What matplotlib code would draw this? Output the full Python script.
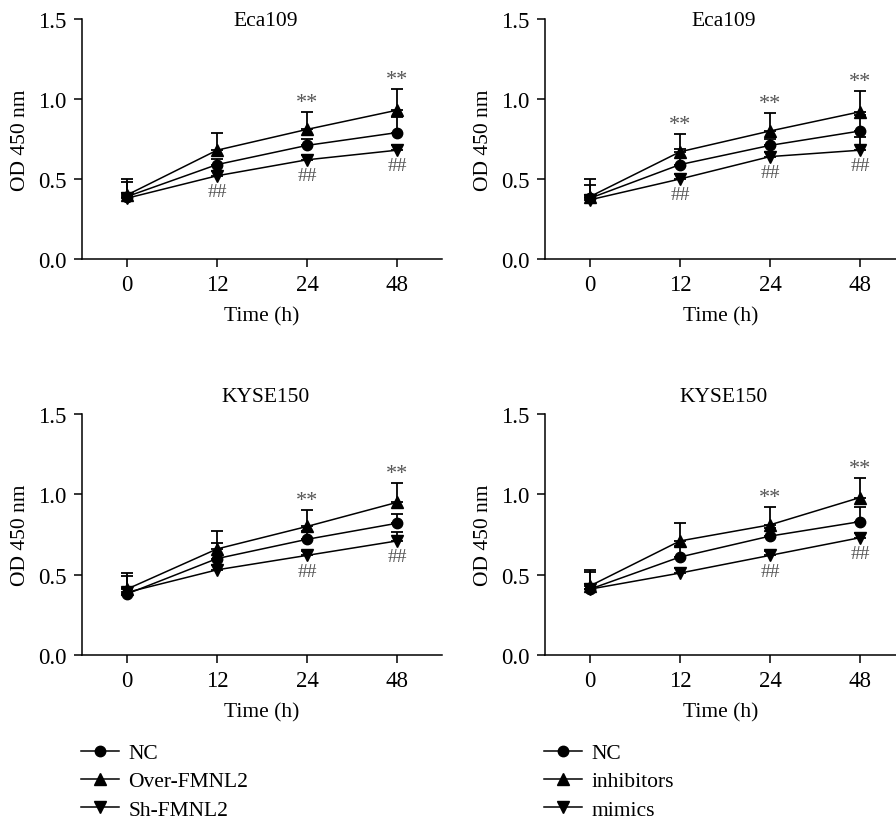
import numpy as np
import matplotlib
matplotlib.use("Agg")
import matplotlib.pyplot as plt
from matplotlib.lines import Line2D

plt.rcParams['font.family'] = ['Liberation Serif', 'DejaVu Serif']
plt.rcParams['font.size'] = 15

# Eixo x (categorias de tempo)
TEMPOS = ['0', '12', '24', '48']

# Painel superior esquerdo - Eca109 (FMNL2)
ECA_A_NC = [0.39, 0.59, 0.71, 0.79]
ECA_A_NC_ERR = [0.09, 0.035, 0.04, 0.096]
ECA_A_OVER = [0.40, 0.68, 0.81, 0.93]
ECA_A_OVER_ERR = [0.10, 0.11, 0.11, 0.13]
ECA_A_SH = [0.38, 0.52, 0.62, 0.68]
ECA_A_SH_ERR = [0.03, 0.03, 0.03, 0.03]

# Painel superior direito - Eca109 (miRNA)
ECA_B_NC = [0.38, 0.59, 0.71, 0.80]
ECA_B_NC_ERR = [0.08, 0.10, 0.04, 0.10]
ECA_B_INIB = [0.39, 0.67, 0.80, 0.92]
ECA_B_INIB_ERR = [0.11, 0.11, 0.11, 0.13]
ECA_B_MIM = [0.37, 0.50, 0.64, 0.68]
ECA_B_MIM_ERR = [0.03, 0.03, 0.03, 0.08]

# Painel inferior esquerdo - KYSE150 (FMNL2)
KY_A_NC = [0.38, 0.60, 0.72, 0.82]
KY_A_NC_ERR = [0.11, 0.10, 0.05, 0.06]
KY_A_OVER = [0.41, 0.66, 0.80, 0.95]
KY_A_OVER_ERR = [0.10, 0.11, 0.105, 0.12]
KY_A_SH = [0.39, 0.53, 0.62, 0.71]
KY_A_SH_ERR = [0.03, 0.03, 0.03, 0.055]

# Painel inferior direito - KYSE150 (miRNA)
KY_B_NC = [0.41, 0.61, 0.74, 0.83]
KY_B_NC_ERR = [0.105, 0.07, 0.05, 0.09]
KY_B_INIB = [0.43, 0.71, 0.81, 0.98]
KY_B_INIB_ERR = [0.10, 0.11, 0.11, 0.12]
KY_B_MIM = [0.41, 0.51, 0.62, 0.73]
KY_B_MIM_ERR = [0.03, 0.03, 0.03, 0.03]

# Marcas de significancia (indices dos tempos)
ECA_A_ESTRELAS = [2, 3]
ECA_A_CERQUILHAS = [1, 2, 3]
ECA_B_ESTRELAS = [1, 2, 3]
ECA_B_CERQUILHAS = [1, 2, 3]
KY_A_ESTRELAS = [2, 3]
KY_A_CERQUILHAS = [2, 3]
KY_B_ESTRELAS = [2, 3]
KY_B_CERQUILHAS = [2, 3]

LEGENDA_A = ['NC', 'Over-FMNL2', 'Sh-FMNL2']
LEGENDA_B = ['NC', 'inhibitors', 'mimics']

W, H = 896, 820
COR_MARCA = '#555555'
MARCADORES = [('o', 7.5), ('^', 8), ('v', 8)]


def desenha_painel(ax, titulo, titulo_y, nc, nc_err, alto, alto_err, baixo, baixo_err,
                   estrelas, cerquilhas, xmax):
    """
    Desenha um painel com tres curvas e barras de erro (somente para cima).
    """
    x = np.arange(len(TEMPOS))
    series = [(nc, nc_err), (alto, alto_err), (baixo, baixo_err)]
    for (y, err), (marker, ms) in zip(series, MARCADORES):
        err = np.asarray(err)
        ax.errorbar(x, y, yerr=[np.zeros_like(err), err], color='black', marker=marker,
                    markersize=ms, linewidth=1.1, elinewidth=1.3, capsize=4, capthick=1.3)

    for i in estrelas:
        ax.text(x[i], alto[i] + alto_err[i] + 0.0, '**', ha='center', va='bottom',
                fontsize=16, color=COR_MARCA)
    for i in cerquilhas:
        ax.text(x[i], baixo[i] - 0.045, '##', ha='center', va='top',
                fontsize=14, color=COR_MARCA)

    ax.set_xlim(-0.5, xmax)
    ax.set_ylim(0, 1.5)
    ax.set_xticks(x)
    ax.set_xticklabels(TEMPOS)
    ax.set_yticks([0.0, 0.5, 1.0, 1.5])
    ax.set_yticklabels(['0.0', '0.5', '1.0', '1.5'])
    ax.spines['top'].set_visible(False)
    ax.spines['right'].set_visible(False)
    for s in ('left', 'bottom'):
        ax.spines[s].set_linewidth(1.1)
    ax.tick_params(direction='out', length=6, width=1.1, pad=5, labelsize=16.5)
    ax.set_xlabel('Time (h)', fontsize=15.5, labelpad=8)
    ax.set_ylabel('OD 450 nm', fontsize=15.5, labelpad=6)
    ax.text(0.51, titulo_y, titulo, transform=ax.transAxes, ha='center', va='center', fontsize=15.5)


def main():
    fig = plt.figure(figsize=(W / 100, H / 100), dpi=100)

    # posicoes em pixels (esquerda, topo, direita, base)
    ax1 = fig.add_axes([82 / W, (H - 260) / H, 360 / W, 240 / H])
    ax2 = fig.add_axes([545 / W, (H - 260) / H, 351 / W, 240 / H])
    ax3 = fig.add_axes([82 / W, (H - 656) / H, 360 / W, 241 / H])
    ax4 = fig.add_axes([545 / W, (H - 656) / H, 351 / W, 241 / H])

    desenha_painel(ax1, 'Eca109', 0.995, ECA_A_NC, ECA_A_NC_ERR, ECA_A_OVER, ECA_A_OVER_ERR,
                   ECA_A_SH, ECA_A_SH_ERR, ECA_A_ESTRELAS, ECA_A_CERQUILHAS, 3.5)
    desenha_painel(ax2, 'Eca109', 0.995, ECA_B_NC, ECA_B_NC_ERR, ECA_B_INIB, ECA_B_INIB_ERR,
                   ECA_B_MIM, ECA_B_MIM_ERR, ECA_B_ESTRELAS, ECA_B_CERQUILHAS, 3.4)
    desenha_painel(ax3, 'KYSE150', 1.072, KY_A_NC, KY_A_NC_ERR, KY_A_OVER, KY_A_OVER_ERR,
                   KY_A_SH, KY_A_SH_ERR, KY_A_ESTRELAS, KY_A_CERQUILHAS, 3.5)
    desenha_painel(ax4, 'KYSE150', 1.072, KY_B_NC, KY_B_NC_ERR, KY_B_INIB, KY_B_INIB_ERR,
                   KY_B_MIM, KY_B_MIM_ERR, KY_B_ESTRELAS, KY_B_CERQUILHAS, 3.4)

    handles = [Line2D([], [], color='black', marker=m, markersize=ms, linewidth=1.1)
               for m, ms in MARCADORES]
    opts = dict(loc='upper left', frameon=False, borderpad=0, borderaxespad=0,
                handlelength=1.75, handletextpad=0.45, labelspacing=0.38, fontsize=15.5)
    fig.legend(handles, LEGENDA_A, bbox_to_anchor=(81 / W, 1 - 744 / H), **opts)
    fig.legend(handles, LEGENDA_B, bbox_to_anchor=(544 / W, 1 - 744 / H), **opts)

    fig.savefig('out.png', dpi=100)


if __name__ == "__main__":
    main()
